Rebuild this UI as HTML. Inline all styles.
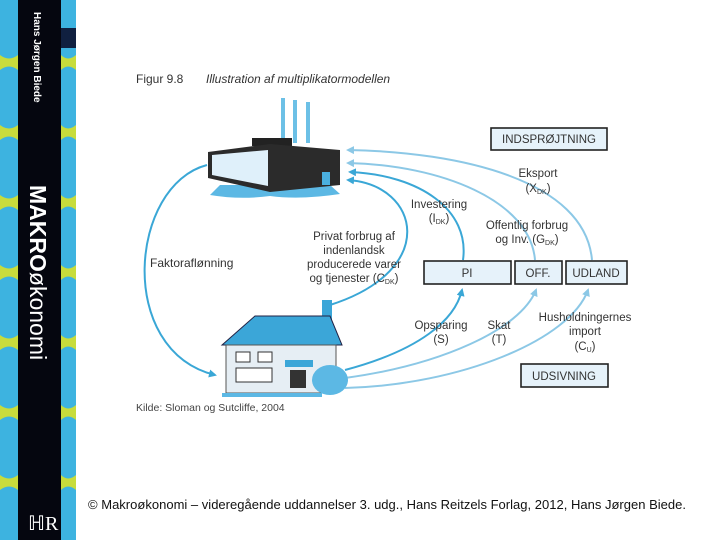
<!DOCTYPE html>
<html><head><meta charset="utf-8"><style>
body{margin:0;width:720px;height:540px;overflow:hidden;background:#fff;font-family:"Liberation Sans",sans-serif;}
</style></head><body>
<svg width="720" height="540" xmlns="http://www.w3.org/2000/svg" style="position:absolute;left:0;top:0">
<defs>
<marker id="a" markerWidth="8" markerHeight="8" refX="6" refY="4" orient="auto" markerUnits="userSpaceOnUse"><path d="M0,0 L8,4 L0,8 z" fill="#3aa7d6"/></marker>
<marker id="b" markerWidth="8" markerHeight="8" refX="6" refY="4" orient="auto" markerUnits="userSpaceOnUse"><path d="M0,0 L8,4 L0,8 z" fill="#8cc8e6"/></marker>
</defs>
<rect x="0" y="0" width="18" height="540" fill="#3db3e0"/>
<g fill="#c8dc3c">
<path d="M0,55 Q9,62 18,55 L18,70 Q9,63 0,70z"/><path d="M0,125 Q9,132 18,125 L18,140 Q9,133 0,140z"/>
<path d="M0,195 Q9,202 18,195 L18,210 Q9,203 0,210z"/><path d="M0,265 Q9,272 18,265 L18,280 Q9,273 0,280z"/>
<path d="M0,335 Q9,342 18,335 L18,350 Q9,343 0,350z"/><path d="M0,405 Q9,412 18,405 L18,420 Q9,413 0,420z"/>
<path d="M0,475 Q9,482 18,475 L18,490 Q9,483 0,490z"/>
</g>
<rect x="18" y="0" width="43" height="540" fill="#05060f"/>
<rect x="61" y="0" width="15" height="540" fill="#3db3e0"/>
<g fill="#c8dc3c">
<path d="M61,55 Q68,62 76,55 L76,70 Q68,63 61,70z"/><path d="M61,125 Q68,132 76,125 L76,140 Q68,133 61,140z"/>
<path d="M61,195 Q68,202 76,195 L76,210 Q68,203 61,210z"/><path d="M61,265 Q68,272 76,265 L76,280 Q68,273 61,280z"/>
<path d="M61,335 Q68,342 76,335 L76,350 Q68,343 61,350z"/><path d="M61,405 Q68,412 76,405 L76,420 Q68,413 61,420z"/>
<path d="M61,475 Q68,482 76,475 L76,490 Q68,483 61,490z"/>
</g>
<rect x="61" y="28" width="15" height="20" fill="#102040"/>
<text transform="translate(34,12) rotate(90)" fill="#fff" font-size="10" font-weight="bold">Hans Jørgen Biede</text>
<text transform="translate(30,185) rotate(90)" fill="#fff" font-size="23"><tspan font-weight="bold">MAKRO</tspan>økonomi</text>
<text x="28" y="530" fill="#fff" font-size="20" font-family="Liberation Serif,serif">ℍR</text>
<text x="136" y="83" font-size="12" fill="#333">Figur 9.8</text>
<text x="206" y="83" font-size="12" fill="#333" font-style="italic">Illustration af multiplikatormodellen</text>
<g fill="none" stroke="#3aa7d6" stroke-width="2">
<path d="M207,165 C130,185 115,350 215,375" marker-end="url(#a)"/>
<path d="M330,305 C440,270 420,185 348,180" marker-end="url(#a)"/>
<path d="M463,260 C470,210 420,175 350,172" marker-end="url(#a)"/>
<path d="M345,370 C420,350 455,320 462,290" marker-end="url(#a)"/>
</g>
<g fill="none" stroke="#8cc8e6" stroke-width="2">
<path d="M535,260 C530,200 440,165 348,163" marker-end="url(#b)"/>
<path d="M592,260 C585,180 460,152 348,150" marker-end="url(#b)"/>
<path d="M345,378 C440,365 520,330 536,290" marker-end="url(#b)"/>
<path d="M345,388 C460,385 570,340 588,290" marker-end="url(#b)"/>
</g>
<g>
<rect x="281" y="98" width="4" height="45" fill="#6cc0e6"/><rect x="293" y="100" width="4" height="43" fill="#6cc0e6"/><rect x="306" y="102" width="4" height="41" fill="#6cc0e6"/>
<path d="M210,195 Q240,200 270,196 Q300,200 340,194 L330,185 L220,185z" fill="#5cb8e4"/>
<rect x="252" y="138" width="40" height="8" fill="#222"/>
<path d="M208,152 L270,144 L340,150 L340,185 L270,192 L208,178z" fill="#2b2b2b"/>
<path d="M212,155 L268,150 L268,186 L212,175z" fill="#dff0fa"/>
<rect x="322" y="172" width="8" height="13" fill="#4ab0e0"/>
</g>
<g>
<rect x="322" y="300" width="10" height="25" fill="#3ba6d8"/>
<path d="M222,345 L255,316 L330,316 L342,345z" fill="#3ba6d8" stroke="#224" stroke-width="1"/>
<rect x="226" y="345" width="110" height="48" fill="#e6eef4" stroke="#555"/>
<rect x="236" y="352" width="14" height="10" fill="#fff" stroke="#333"/><rect x="258" y="352" width="14" height="10" fill="#fff" stroke="#333"/>
<rect x="236" y="368" width="36" height="14" fill="#fff" stroke="#333"/>
<rect x="285" y="360" width="28" height="7" fill="#3ba6d8"/>
<rect x="290" y="370" width="16" height="18" fill="#333"/>
<rect x="222" y="393" width="100" height="4" fill="#5cb8e4"/>
<ellipse cx="330" cy="380" rx="18" ry="15" fill="#5cb8e4"/>
</g>
<g fill="#e6f2fa" stroke="#222" stroke-width="1.6">
<rect x="491" y="128" width="116" height="22"/>
<rect x="424" y="261" width="87" height="23"/>
<rect x="515" y="261" width="47" height="23"/>
<rect x="566" y="261" width="61" height="23"/>
<rect x="521" y="364" width="87" height="23"/>
</g>
<g font-size="11.5" fill="#333" text-anchor="middle">
<text x="549" y="143">INDSPRØJTNING</text>
<text x="467" y="277">PI</text><text x="538" y="277">OFF.</text><text x="596" y="277">UDLAND</text>
<text x="564" y="380">UDSIVNING</text>
<text x="538" y="177">Eksport</text><text x="538" y="192">(X<tspan font-size="7" dy="2">DK</tspan><tspan dy="-2">)</tspan></text>
<text x="439" y="208">Investering</text><text x="439" y="222">(I<tspan font-size="7" dy="2">DK</tspan><tspan dy="-2">)</tspan></text>
<text x="527" y="229">Offentlig forbrug</text><text x="527" y="243">og Inv. (G<tspan font-size="7" dy="2">DK</tspan><tspan dy="-2">)</tspan></text>
<text x="354" y="240">Privat forbrug af</text><text x="354" y="254">indenlandsk</text><text x="354" y="268">producerede varer</text><text x="354" y="282">og tjenester (C<tspan font-size="7" dy="2">DK</tspan><tspan dy="-2">)</tspan></text>
<text x="441" y="329">Opsparing</text><text x="441" y="343">(S)</text>
<text x="499" y="329">Skat</text><text x="499" y="343">(T)</text>
<text x="585" y="321">Husholdningernes</text><text x="585" y="335">import</text><text x="585" y="350">(C<tspan font-size="7" dy="2">U</tspan><tspan dy="-2">)</tspan></text>
</g>
<text x="150" y="267" font-size="12" fill="#333">Faktoraflønning</text>
<text x="136" y="411" font-size="10.5" fill="#444">Kilde: Sloman og Sutcliffe, 2004</text>
<text x="88" y="509" font-size="13" fill="#111" textLength="598">© Makroøkonomi – videregående uddannelser 3. udg., Hans Reitzels Forlag, 2012, Hans Jørgen Biede.</text>
</svg>
</body></html>
